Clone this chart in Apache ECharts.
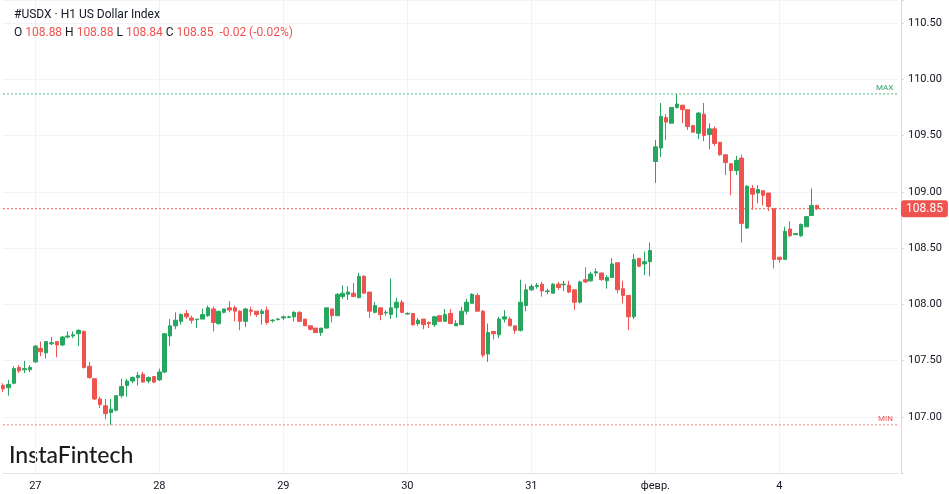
<!DOCTYPE html>
<html><head><meta charset="utf-8">
<script src="https://cdn.jsdelivr.net/npm/echarts@6/dist/echarts.min.js"></script>
<style>html,body{margin:0;padding:0;background:#fff}#c{width:949px;height:494px}</style>
</head><body><div id="c"></div>
<script>
const dayStarts = [6, 29, 52, 75, 98, 121, 144];
const dayNames = ['27', '28', '29', '30', '31', 'февр.', '4'];
const yTicks = ['107.00','107.50','108.00','108.50','109.00','109.50','110.00','110.50'];
const opens = [
107.28,107.26,107.30,107.44,107.42,107.42,107.49,107.61,107.57,107.65,
107.67,107.64,107.71,107.72,107.74,107.76,107.45,107.34,107.16,107.10,
107.04,107.06,107.19,107.28,107.32,107.35,107.38,107.32,107.36,107.33,
107.40,107.72,107.81,107.85,107.92,107.88,107.865,107.87,107.90,107.96,
107.83,107.93,107.97,107.97,107.94,107.85,107.95,107.94,107.92,107.95,
107.855,107.865,107.88,107.885,107.89,107.93,107.87,107.81,107.79,107.75,
107.79,107.96,107.90,108.07,108.09,108.10,108.06,108.25,108.11,107.93,
107.97,107.925,107.91,107.97,108.02,107.915,107.92,107.83,107.87,107.84,
107.82,107.90,107.85,107.92,107.81,107.82,107.94,108.01,108.08,107.94,
107.56,107.76,107.73,107.87,107.87,107.81,107.77,107.99,108.13,108.16,
108.18,108.115,108.10,108.18,108.175,108.17,108.13,108.02,108.22,108.21,
108.28,108.28,108.21,108.24,108.37,108.14,108.08,107.89,108.41,108.36,
108.38,109.27,109.39,109.66,109.61,109.75,109.77,109.73,109.59,109.52,
109.69,109.51,109.56,109.44,109.33,109.25,109.19,109.30,108.68,109.03,
108.99,109.01,108.99,108.85,108.42,108.40,108.67,108.62,108.61,108.69,
108.79,108.88];
const closes = [
107.25,107.29,107.43,107.41,107.43,107.44,107.63,107.58,107.67,107.66,
107.64,107.71,107.72,107.73,107.77,107.44,107.35,107.16,107.11,107.03,
107.07,107.19,107.27,107.32,107.35,107.37,107.31,107.35,107.31,107.40,
107.74,107.81,107.86,107.91,107.89,107.86,107.87,107.91,107.97,107.84,
107.94,107.96,107.95,107.94,107.85,107.96,107.94,107.91,107.94,107.84,
107.86,107.87,107.89,107.89,107.93,107.85,107.81,107.78,107.75,107.79,
107.97,107.90,108.09,108.10,108.11,108.07,108.25,108.10,107.94,107.99,
107.91,107.93,107.97,108.02,107.93,107.92,107.82,107.86,107.82,107.83,
107.89,107.85,107.91,107.83,107.83,107.94,108.02,108.09,107.94,107.55,
107.75,107.74,107.87,107.89,107.81,107.77,108.02,108.13,108.16,108.17,
108.12,108.12,108.18,108.15,108.18,108.11,108.02,108.20,108.20,108.27,
108.29,108.22,108.24,108.36,108.13,108.08,107.89,108.40,108.34,108.38,
108.48,109.40,109.67,109.62,109.75,109.78,109.73,109.58,109.53,109.70,
109.50,109.56,109.43,109.33,109.26,109.19,109.28,108.72,109.05,108.98,
109.02,108.97,108.87,108.40,108.40,108.65,108.61,108.63,108.71,108.78,
108.88,108.85];
const highs = [
107.30,107.33,107.45,107.46,107.50,107.46,107.64,107.67,107.67,107.71,
107.67,107.72,107.76,107.76,107.78,107.77,107.49,107.34,107.18,107.16,
107.16,107.19,107.34,107.34,107.36,107.40,107.40,107.36,107.36,107.43,
107.74,107.87,107.93,107.92,107.95,107.90,107.87,107.96,107.99,107.98,
107.94,107.96,108.03,107.99,107.95,107.97,107.98,107.94,107.96,107.98,
107.87,107.88,107.90,107.90,107.94,107.94,107.87,107.81,107.79,107.79,
107.97,107.96,108.10,108.17,108.16,108.19,108.28,108.26,108.11,108.02,
107.97,107.95,108.23,108.06,108.04,107.93,107.92,107.88,107.87,107.85,
107.90,107.90,107.96,107.96,107.86,107.98,108.05,108.10,108.10,107.95,
107.83,107.76,107.89,107.95,107.89,107.81,108.22,108.18,108.18,108.19,
108.20,108.14,108.19,108.20,108.21,108.21,108.13,108.21,108.33,108.29,
108.32,108.28,108.26,108.41,108.37,108.21,108.08,108.45,108.41,108.47,
108.55,109.46,109.79,109.69,109.75,109.87,109.77,109.73,109.59,109.71,
109.79,109.61,109.58,109.44,109.33,109.25,109.32,109.33,109.06,109.06,
109.06,109.01,108.99,108.85,108.42,108.69,108.74,108.63,108.72,108.78,
109.03,108.88];
const lows = [
107.22,107.19,107.29,107.39,107.39,107.40,107.48,107.54,107.52,107.64,
107.53,107.63,107.70,107.70,107.63,107.43,107.34,107.15,107.08,106.98,
106.93,107.05,107.17,107.18,107.30,107.28,107.31,107.30,107.30,107.32,
107.39,107.63,107.78,107.82,107.87,107.83,107.79,107.87,107.89,107.76,
107.82,107.92,107.93,107.85,107.77,107.80,107.90,107.89,107.82,107.82,
107.84,107.86,107.86,107.88,107.85,107.85,107.81,107.77,107.75,107.72,
107.79,107.84,107.90,108.05,108.04,108.07,108.06,108.10,107.88,107.92,
107.86,107.90,107.87,107.88,107.92,107.91,107.81,107.81,107.78,107.79,
107.80,107.85,107.85,107.83,107.81,107.82,107.91,108.01,107.94,107.53,
107.49,107.69,107.70,107.84,107.81,107.74,107.76,107.94,108.12,108.14,
108.07,108.09,108.10,108.13,108.12,108.10,107.95,108.01,108.19,108.20,
108.25,108.21,108.14,108.24,108.10,108.01,107.77,107.87,108.33,108.26,
108.25,109.08,109.31,109.46,109.61,109.74,109.61,109.55,109.53,109.47,
109.45,109.38,109.41,109.32,109.15,108.97,109.15,108.55,108.67,108.84,
108.90,108.88,108.83,108.32,108.37,108.40,108.60,108.62,108.60,108.69,
108.79,108.84];
const hdrTitle = '#USDX · H1 US Dollar Index';
const hdrChange = '-0.02 (-0.02%)';

const totalSlots = 167;
const categories = [];
for (let i = 0; i < totalSlots; i++) categories.push('');
dayStarts.forEach((s, k) => { categories[s] = dayNames[k]; });
const candles = opens.map((o, i) => [o, closes[i], lows[i], highs[i]]);
const last = candles.length - 1;
const maxH = Math.max(...highs), minL = Math.min(...lows);
const UP = '#26a65e', DOWN = '#ef5350';
const f2 = v => v.toFixed(2);

function levelSeries(name, value, color, dash, endLabel) {
  return {
    name, type: 'line', silent: true, showSymbol: false, symbol: 'none',
    data: categories.map(() => value),
    lineStyle: { color, type: dash, width: 1 },
    itemStyle: { color },
    endLabel,
    z: 1
  };
}

const chart = echarts.init(document.getElementById('c'));
chart.setOption({
  animation: false,
  backgroundColor: '#ffffff',
  textStyle: { fontFamily: 'Roboto, "Liberation Sans", sans-serif' },
  title: {
    left: 9, top: 4, itemGap: 6,
    text: hdrTitle,
    textStyle: { fontSize: 12, fontWeight: 'normal', color: '#131722', fontFamily: 'Roboto, sans-serif' },
    subtext: '{k|O} {v|' + f2(opens[last]) + '} {k|H} {v|' + f2(highs[last]) + '} {k|L} {v|' + f2(lows[last]) + '} {k|C} {v|' + f2(closes[last]) + '}  {v|' + hdrChange + '}',
    subtextStyle: { fontSize: 12, color: '#131722', fontFamily: 'Roboto, sans-serif',
      rich: { k: { color: '#131722', fontSize: 12 }, v: { color: '#ef5350', fontSize: 12 } } }
  },
  grid: { left: 0.6, right: 51, top: 0, bottom: 20.7 },
  xAxis: {
    type: 'category', data: categories, boundaryGap: false,
    axisLine: { show: true, lineStyle: { color: '#e0e3eb' } },
    axisTick: { show: false },
    axisLabel: { interval: 0, color: '#131722', fontSize: 11, margin: 7 },
    splitLine: { show: true, interval: (i, v) => v !== '', lineStyle: { color: '#f0f3fa' } }
  },
  yAxis: {
    type: 'value', position: 'right', offset: 3, min: 106.5, max: 110.7045, interval: 0.5,
    axisLine: { show: true, lineStyle: { color: '#d6dae2' } },
    axisTick: { show: true, length: 3, lineStyle: { color: '#d6dae2' } },
    axisLabel: { color: '#131722', fontSize: 11, margin: 7,
      formatter: v => { const s = f2(v); return yTicks.includes(s) ? s : ''; } },
    splitLine: { show: true, lineStyle: { color: '#f0f3fa' } }
  },
  series: [
    levelSeries('max', maxH, '#4cbb82', [2, 2],
      { show: true, formatter: 'MAX', color: '#26a65e', fontSize: 8, distance: 0, offset: [-22, -6] }),
    levelSeries('min', minL, '#f27e7c', [2, 2],
      { show: true, formatter: 'MIN', color: '#ef5350', fontSize: 8, distance: 0, offset: [-20, -6] }),
    levelSeries('last', closes[last], DOWN, [2, 2],
      { show: true, formatter: () => f2(closes[last]), color: '#fff',
        backgroundColor: DOWN, borderRadius: 3, padding: [3, 5, 2, 5], fontSize: 12, distance: 3 }),
    {
      type: 'candlestick', data: candles, barWidth: 4, z: 3,
      itemStyle: { color: UP, color0: DOWN, borderColor: UP, borderColor0: DOWN, borderWidth: 1 }
    }
  ],
  graphic: [
    { type: 'text', left: 9, top: 444, style: { text: 'InstaFintech', fill: '#1b1b1f', fontSize: 23, fontFamily: 'Lato, sans-serif', fontWeight: 500 } }
  ]
});
</script></body></html>
